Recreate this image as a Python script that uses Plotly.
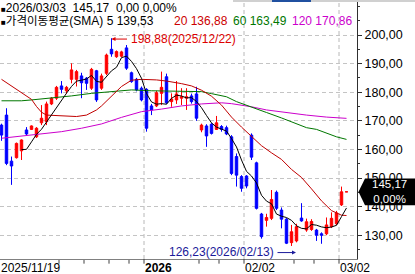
import plotly.graph_objects as go
import pandas as pd

# ---------------- data ----------------
dates = [
    "2025/11/19", "2025/11/20", "2025/11/21", "2025/11/24", "2025/11/25", "2025/11/26", "2025/11/28",
    "2025/12/01", "2025/12/02", "2025/12/03", "2025/12/04", "2025/12/05",
    "2025/12/08", "2025/12/09", "2025/12/10", "2025/12/11", "2025/12/12",
    "2025/12/15", "2025/12/16", "2025/12/17", "2025/12/18", "2025/12/19",
    "2025/12/22", "2025/12/23", "2025/12/24", "2025/12/26",
    "2025/12/29", "2025/12/30", "2025/12/31",
    "2026/01/02",
    "2026/01/05", "2026/01/06", "2026/01/07", "2026/01/08", "2026/01/09",
    "2026/01/12", "2026/01/13", "2026/01/14", "2026/01/15", "2026/01/16",
    "2026/01/20", "2026/01/21", "2026/01/22", "2026/01/23",
    "2026/01/26", "2026/01/27", "2026/01/28", "2026/01/29", "2026/01/30",
    "2026/02/02", "2026/02/03", "2026/02/04", "2026/02/05", "2026/02/06",
    "2026/02/09", "2026/02/10", "2026/02/11", "2026/02/12", "2026/02/13",
    "2026/02/17", "2026/02/18", "2026/02/19", "2026/02/20",
    "2026/02/23", "2026/02/24", "2026/02/25", "2026/02/26", "2026/02/27",
    "2026/03/02", "2026/03/03",
]

opens = [168.5, 172.0, 155.9, 157.1, 159.5, 166.8, 167.0, 164.4, 169.3, 169.7,
         175.9, 177.9, 182.2, 180.5, 184.5, 184.5, 185.7, 184.9, 181.4, 187.5,
         181.4, 186.6, 195.0, 192.4, 192.6, 195.5, 186.8, 184.5, 181.4, 181.0,
         175.2, 175.2, 179.6, 185.4, 176.7, 177.3, 177.9, 177.9, 178.7, 179.4,
         166.8, 168.2, 168.8, 167.0, 168.0, 167.6, 164.4, 157.5, 150.5, 150.7,
         165.0, 155.3, 137.4, 135.2, 135.9, 145.0, 138.8, 135.6, 127.4, 128.0,
         136.0, 131.8, 132.0, 131.8, 130.5, 130.5, 133.0, 134.0, 140.6, 145.17]
highs = [169.0, 174.4, 157.5, 162.4, 163.5, 167.8, 168.4, 167.8, 175.5, 176.7,
         178.3, 182.2, 183.9, 182.2, 190.1, 187.8, 186.8, 185.3, 188.5, 187.8,
         186.5, 193.5, 198.88, 194.6, 194.5, 196.5, 187.2, 185.0, 182.0, 181.4,
         175.9, 180.5, 187.2, 186.5, 179.6, 183.9, 181.4, 181.4, 179.5, 181.9,
         169.0, 168.8, 169.2, 171.7, 168.5, 168.3, 165.0, 158.6, 151.0, 151.0,
         165.6, 155.7, 137.8, 137.5, 145.8, 145.6, 139.7, 136.0, 133.6, 134.0,
         141.2, 135.8, 135.6, 132.2, 131.0, 136.2, 138.0, 138.5, 147.0, 145.17]
lows = [163.0, 154.5, 147.6, 156.8, 156.3, 164.7, 166.8, 164.0, 168.5, 168.5,
        175.5, 177.3, 179.6, 179.5, 183.1, 182.0, 177.9, 180.8, 180.8, 176.6,
        180.8, 186.0, 192.4, 192.0, 192.2, 187.8, 183.3, 180.3, 176.8, 166.2,
        172.0, 174.8, 175.5, 175.8, 174.9, 175.9, 175.5, 173.8, 176.0, 170.0,
        166.0, 160.9, 165.2, 166.8, 166.2, 165.0, 151.0, 147.0, 145.2, 146.4,
        156.3, 139.0, 128.8, 133.0, 135.3, 138.8, 132.4, 126.9, 126.23, 127.5,
        134.7, 131.2, 131.5, 128.0, 127.0, 130.0, 132.5, 133.5, 140.2, 145.17]
closes = [165.0, 155.1, 154.2, 162.1, 163.3, 165.4, 168.2, 167.4, 170.9, 175.9,
          177.9, 181.7, 181.0, 181.7, 187.8, 187.2, 183.3, 183.1, 188.0, 177.3,
          185.7, 193.0, 193.4, 194.2, 194.1, 188.4, 183.7, 180.8, 177.3, 167.4,
          173.8, 179.8, 181.7, 176.3, 177.6, 179.4, 178.4, 178.4, 176.7, 170.9,
          168.5, 164.7, 165.6, 169.3, 167.0, 165.4, 151.6, 151.0, 146.4, 147.2,
          157.3, 139.4, 129.5, 136.2, 142.5, 139.4, 135.6, 127.2, 131.2, 133.0,
          135.0, 134.7, 134.8, 130.0, 130.0, 133.6, 135.9, 137.8, 145.17, 145.17]

ma20_idx = [0, 2, 4, 6, 7, 8, 9, 12, 15, 17, 19, 20, 22, 24, 26, 28, 31, 33, 36, 38,
            40, 42, 44, 46, 48, 50, 52, 54, 56, 58, 60, 62, 64, 66, 68, 69]
ma20_val = [184.5, 182.2, 179.8, 177.5, 175.0, 173.0, 172.0, 171.8, 171.5, 172.0,
            173.8, 175.2, 178.5, 182.0, 184.2, 184.5, 184.3, 183.9, 183.0, 182.2,
            180.7, 178.6, 175.5, 171.3, 167.8, 164.5, 161.3, 158.8, 156.5, 153.0,
            150.2, 146.2, 142.0, 138.6, 137.0, 136.88]
ma60_idx = [0, 4, 6, 10, 14, 18, 22, 24, 26, 30, 33, 37, 40, 42, 45, 47, 50, 53, 56,
            58, 61, 63, 65, 67, 69]
ma60_val = [177.0, 177.0, 177.3, 177.9, 178.7, 179.6, 180.2, 180.5, 180.8, 180.5,
            180.4, 180.4, 180.2, 179.5, 178.4, 176.7, 174.9, 172.9, 171.0, 169.6,
            167.6, 167.0, 165.6, 164.4, 163.49]
ma120_idx = [0, 4, 8, 12, 16, 20, 24, 28, 32, 36, 40, 44, 46, 50, 53, 57, 61, 65, 69]
ma120_val = [163.9, 164.7, 165.4, 166.2, 167.4, 168.9, 171.2, 173.2, 174.1, 175.2,
             175.9, 176.3, 176.0, 174.9, 173.8, 172.8, 172.0, 171.3, 170.86]

y_ticks = [130, 140, 150, 160, 170, 180, 190, 200]
grid_dates = ["2026/01/02", "2026/02/02", "2026/03/02"]
grid_labels = ["2026", "02/02", "03/02"]
week_ticks = ["2025/12/08", "2025/12/15", "2025/12/22", "2025/12/29",
              "2026/01/20", "2026/01/26", "2026/02/17", "2026/02/23"]
first_label = "2025/11/19"
last_price = "145,17"
last_pct = "0,00%"
high_text = "198,88(2025/12/22)"
low_text = "126,23(2026/02/13)"

# ---------------- figure ----------------
FONT = "Liberation Sans, Arial, Noto Sans CJK KR, sans-serif"
RED = "#ff0000"
BLUE = "#0000ff"
PW = 357.0   # plot-area width in px
PH = 259.0   # plot-area height in px
SQ = "<span style='font-size:8px'>■</span>"

ma5 = pd.Series(closes).rolling(5).mean()

fig = go.Figure()
fig.add_trace(go.Candlestick(
    x=dates, open=opens, high=highs, low=lows, close=closes,
    increasing=dict(line=dict(color=RED, width=1), fillcolor=RED),
    decreasing=dict(line=dict(color=BLUE, width=1), fillcolor=BLUE),
    whiskerwidth=0, showlegend=False, hoverinfo="skip",
))
fig.add_trace(go.Scatter(x=[dates[i] for i in ma120_idx], y=ma120_val, mode="lines",
                         line=dict(color="#cc00cc", width=1), showlegend=False, hoverinfo="skip"))
fig.add_trace(go.Scatter(x=[dates[i] for i in ma60_idx], y=ma60_val, mode="lines",
                         line=dict(color="#007700", width=1), showlegend=False, hoverinfo="skip"))
fig.add_trace(go.Scatter(x=[dates[i] for i in ma20_idx], y=ma20_val, mode="lines",
                         line=dict(color="#c00000", width=1), showlegend=False, hoverinfo="skip"))
fig.add_trace(go.Scatter(x=dates, y=ma5, mode="lines",
                         line=dict(color="#000000", width=1), showlegend=False, hoverinfo="skip"))


def px(v):
    return v / PW


def py(v):
    return 1 - v / PH


shapes = []
# vertical dashed gridlines at month boundaries + axis ticks
for d in grid_dates:
    xi = dates.index(d) - 0.5
    shapes.append(dict(type="line", xref="x", yref="paper", x0=xi, x1=xi, y0=0, y1=1,
                       line=dict(color="#b8b8b8", width=1, dash="4px,3px"), layer="below"))
    shapes.append(dict(type="line", xref="x", yref="paper", x0=xi, x1=xi, y0=0, y1=-0.018,
                       line=dict(color="#404040", width=1)))
for d in week_ticks:
    xi = dates.index(d) - 0.5
    shapes.append(dict(type="line", xref="x", yref="paper", x0=xi, x1=xi, y0=-0.004, y1=-0.018,
                       line=dict(color="#404040", width=1)))

# last price tag
p = closes[-1]
shapes.append(dict(type="path", xref="paper", yref="y",
                   path=f"M {px(358.5)},{p} L {px(365)},{p + 4.7} L {px(415)},{p + 4.7} "
                        f"L {px(415)},{p - 4.7} L {px(365)},{p - 4.7} Z",
                   fillcolor="#000000", line=dict(width=0)))

# top toolbar strip
shapes.append(dict(type="rect", xref="paper", yref="paper", x0=px(233), x1=px(415),
                   y0=py(2), y1=1, fillcolor="#d0d0d0", line=dict(width=0)))
shapes.append(dict(type="rect", xref="paper", yref="paper", x0=px(272), x1=px(311),
                   y0=py(2), y1=1, fillcolor="#2050a0", line=dict(width=0)))

ann = []


def txt(x, y, s, color="#000000", size=12, xanchor="left", xref="paper", yref="paper"):
    ann.append(dict(x=x, y=y, xref=xref, yref=yref, text=s, showarrow=False,
                    xanchor=xanchor, yanchor="middle", borderpad=0,
                    font=dict(family=FONT, size=size, color=color)))


txt(0, py(7.5), SQ + "2026/03/03  145,17  0,00 0,00%")
txt(0, py(21.5), SQ + "<span style='font-size:11.5px'>가격이동평균</span>(SMA) 5 139,53")
txt(px(173), py(21.5), "20 136,88", color="#cc0000")
txt(px(232), py(21.5), "60 163,49", color="#007700")
txt(px(291), py(21.5), "120 170,86", color="#cc00cc")

# bottom date labels
txt(0, py(267.5), first_label)
for d, lab in zip(grid_dates, grid_labels):
    s = "<b>" + lab + "</b>" if lab == "2026" else lab
    txt(dates.index(d) - 0.5, py(267.5), s, xref="x")

# price tag text
ann.append(dict(x=px(390), y=p, xref="paper", yref="y", text=last_price + "<br>" + last_pct,
                showarrow=False, xanchor="center", yanchor="middle", borderpad=0,
                font=dict(family=FONT, size=11.5, color="#ffffff")))

# high / low markers
hi_i = highs.index(max(highs))
lo_i = lows.index(min(lows))
HI_C = "#dd0000"
LO_C = "#1a1a9a"
ann.append(dict(x=hi_i, y=max(highs) - 0.3, xref="x", yref="y", text="",
                showarrow=True, arrowhead=2, arrowsize=0.8, arrowwidth=1, arrowcolor=HI_C,
                ax=17, ay=0))
txt(hi_i + 3.6, max(highs) - 0.3, high_text, color=HI_C, xref="x", yref="y")
ann.append(dict(x=lo_i + 0.9, y=min(lows) - 2.3, xref="x", yref="y", text="",
                showarrow=True, arrowhead=2, arrowsize=0.8, arrowwidth=1, arrowcolor=LO_C,
                ax=-20, ay=0))
txt(lo_i - 3.3, min(lows) - 2.0, low_text, color=LO_C, xanchor="right", xref="x", yref="y")

fig.update_layout(
    width=415, height=274,
    margin=dict(l=0, r=58, t=0, b=15),
    paper_bgcolor="#ffffff", plot_bgcolor="#ffffff",
    separators=",.",
    shapes=shapes, annotations=ann,
    showlegend=False,
    font=dict(family=FONT, size=12, color="#000000"),
)
fig.update_xaxes(type="category", range=[-0.3, 71.1], rangeslider=dict(visible=False),
                 showticklabels=False, ticks="", showgrid=False, zeroline=False,
                 showline=True, linecolor="#808080", linewidth=1, mirror=False)
fig.update_yaxes(side="right", range=[121.68, 212.24], tickvals=y_ticks, tickformat=".2f",
                 ticks="outside", ticklen=4, tickcolor="#303030",
                 showgrid=True, gridcolor="#c4c4c4", griddash="4px,3px", gridwidth=1,
                 showline=True, linecolor="#303030", linewidth=1, zeroline=False,
                 minor=dict(dtick=5, tick0=0, ticks="outside", ticklen=2, tickcolor="#303030",
                            showgrid=False),
                 tickfont=dict(family=FONT, size=12.5, color="#000000"))

fig.write_html("out.html")
